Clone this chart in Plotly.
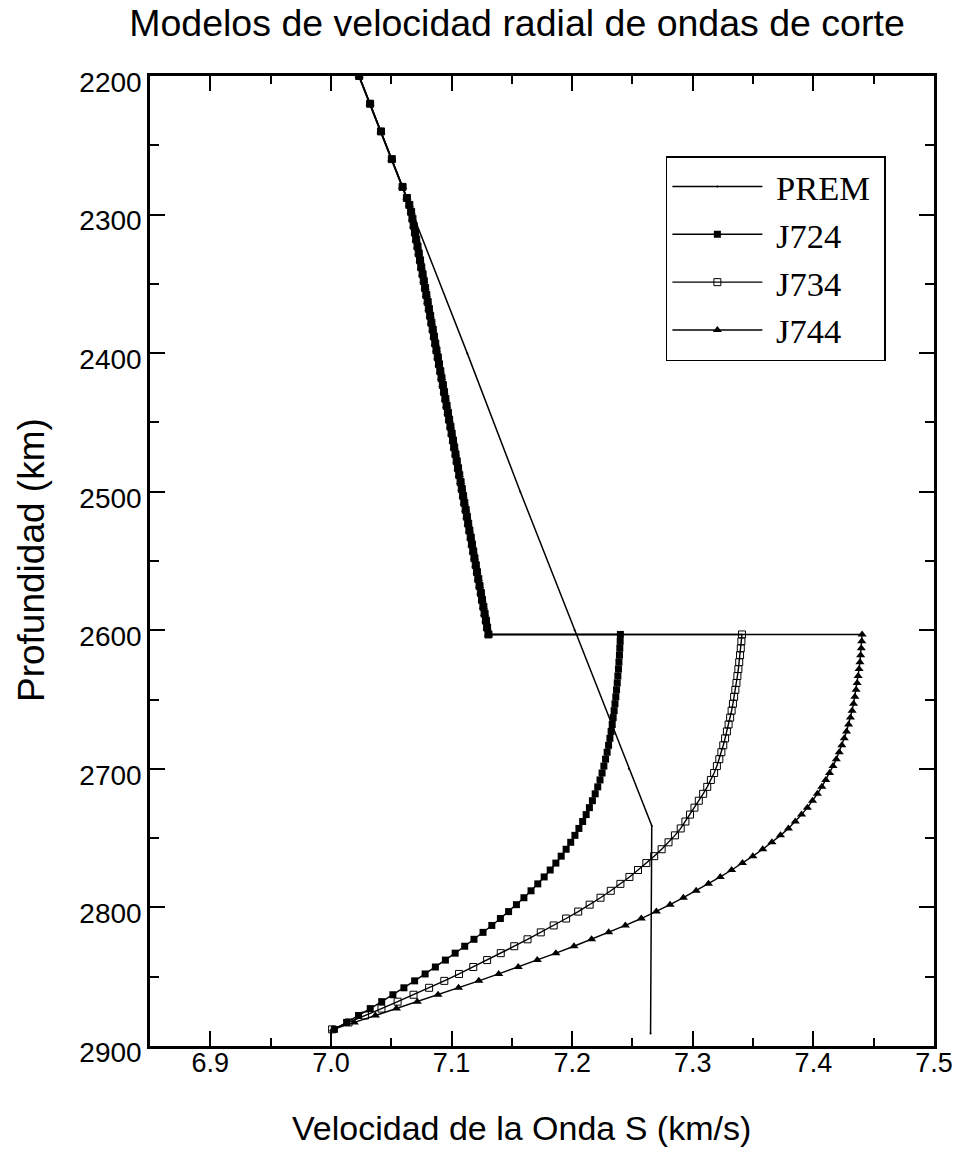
import plotly.graph_objects as go

# ---------------- data ----------------
PREM_DEPTH = [2200, 2300, 2400, 2500, 2600, 2700, 2741, 2891]
PREM_VS = [7.023, 7.068, 7.113, 7.157, 7.202, 7.247, 7.266, 7.265]

# shared upper part of the three models (2200 - 2603 km)
UPPER_DEPTH = [2200, 2220, 2240, 2260, 2280, 2288, 2293,
               2298, 2303, 2308, 2313, 2318, 2323, 2328, 2333, 2338, 2343,
               2348, 2353, 2358, 2363, 2368, 2373, 2378, 2383, 2388, 2393,
               2398, 2403, 2408, 2413, 2418, 2423, 2428, 2433, 2438, 2443,
               2448, 2453, 2458, 2463, 2468, 2473, 2478, 2483, 2488, 2493,
               2498, 2503, 2508, 2513, 2518, 2523, 2528, 2533, 2538, 2543,
               2548, 2553, 2558, 2563, 2568, 2573, 2578, 2583, 2588, 2593,
               2598, 2603]
UPPER_VS = [7.0234, 7.0325, 7.0415, 7.0505, 7.0594, 7.0630, 7.0650,
            7.0665, 7.0676, 7.0686, 7.0697, 7.0707, 7.0718, 7.0728, 7.0739, 7.0749, 7.0760,
            7.0770, 7.0781, 7.0791, 7.0802, 7.0812, 7.0823, 7.0833, 7.0844, 7.0854, 7.0865,
            7.0875, 7.0886, 7.0896, 7.0907, 7.0917, 7.0928, 7.0938, 7.0949, 7.0959, 7.0970,
            7.0980, 7.0991, 7.1001, 7.1012, 7.1022, 7.1033, 7.1043, 7.1054, 7.1064, 7.1075,
            7.1085, 7.1096, 7.1106, 7.1117, 7.1127, 7.1138, 7.1148, 7.1159, 7.1169, 7.1180,
            7.1190, 7.1201, 7.1211, 7.1222, 7.1232, 7.1243, 7.1253, 7.1264, 7.1274, 7.1285,
            7.1295, 7.1306]

# lower part (2603 - 2888 km), one velocity list per model
LOWER_DEPTH = [2603, 2608, 2613, 2618, 2623, 2628, 2633, 2638, 2643, 2648,
               2653, 2658, 2663, 2668, 2673, 2678, 2683, 2688, 2693, 2698,
               2703, 2708, 2713, 2718, 2723, 2728, 2733, 2738, 2743, 2748,
               2753, 2758, 2763, 2768, 2773, 2778, 2783, 2788, 2793, 2798,
               2803, 2808, 2813, 2818, 2823, 2828, 2833, 2838, 2843, 2848,
               2853, 2858, 2863, 2868, 2873, 2878, 2883, 2888]
J724_VS = [7.2400, 7.2398, 7.2395, 7.2392, 7.2388, 7.2384, 7.2379, 7.2374, 7.2368, 7.2362,
           7.2355, 7.2348, 7.2340, 7.2332, 7.2323, 7.2313, 7.2302, 7.2290, 7.2277, 7.2263,
           7.2248, 7.2231, 7.2212, 7.2191, 7.2168, 7.2143, 7.2116, 7.2087, 7.2056, 7.2023,
           7.1988, 7.1950, 7.1909, 7.1865, 7.1818, 7.1768, 7.1715, 7.1659, 7.1600, 7.1538,
           7.1473, 7.1405, 7.1334, 7.1261, 7.1186, 7.1109, 7.1030, 7.0949, 7.0866, 7.0781,
           7.0694, 7.0605, 7.0514, 7.0421, 7.0326, 7.0229, 7.0130, 7.0029]
J734_VS = [7.3408, 7.3403, 7.3398, 7.3392, 7.3385, 7.3378, 7.3370, 7.3362, 7.3353, 7.3343,
           7.3333, 7.3322, 7.3310, 7.3297, 7.3283, 7.3268, 7.3253, 7.3237, 7.3220, 7.3200,
           7.3177, 7.3150, 7.3120, 7.3086, 7.3050, 7.3014, 7.2977, 7.2939, 7.2900, 7.2852,
           7.2799, 7.2742, 7.2680, 7.2615, 7.2546, 7.2475, 7.2400, 7.2320, 7.2235, 7.2145,
           7.2050, 7.1950, 7.1847, 7.1740, 7.1630, 7.1520, 7.1408, 7.1295, 7.1180, 7.1062,
           7.0940, 7.0814, 7.0685, 7.0553, 7.0419, 7.0283, 7.0146, 7.0010]
J744_VS = [7.4404, 7.4401, 7.4397, 7.4392, 7.4386, 7.4379, 7.4371, 7.4363, 7.4354, 7.4344,
           7.4333, 7.4321, 7.4307, 7.4292, 7.4275, 7.4256, 7.4236, 7.4214, 7.4190, 7.4163,
           7.4134, 7.4103, 7.4070, 7.4033, 7.3993, 7.3950, 7.3902, 7.3850, 7.3793, 7.3727,
           7.3656, 7.3580, 7.3498, 7.3412, 7.3322, 7.3228, 7.3130, 7.3028, 7.2922, 7.2812,
           7.2698, 7.2573, 7.2441, 7.2303, 7.2161, 7.2015, 7.1865, 7.1711, 7.1553, 7.1391,
           7.1226, 7.1058, 7.0888, 7.0716, 7.0543, 7.0369, 7.0194, 7.0020]

SERIES_NAMES = ["PREM", "J724", "J734", "J744"]
TITLE = "Modelos de velocidad radial de ondas de corte"
X_TITLE = "Velocidad de la Onda S (km/s)"
Y_TITLE = "Profundidad (km)"

# ---------------- figure ----------------
SANS = "Liberation Sans, Arial, sans-serif"
SERIF = "Liberation Serif, Times New Roman, serif"
NBSP = "\u00a0"


def legend_label(name):
    # a little breathing room around the legend text, as in the original box
    return NBSP + name + NBSP


fig = go.Figure()

fig.add_trace(go.Scatter(
    x=PREM_VS, y=PREM_DEPTH, name=legend_label(SERIES_NAMES[0]), mode="lines+markers",
    line=dict(color="black", width=1.5),
    marker=dict(symbol="circle", size=2, color="black"),
))

models = [
    (SERIES_NAMES[1], J724_VS, dict(symbol="square", size=7, color="black")),
    (SERIES_NAMES[2], J734_VS, dict(symbol="square-open", size=7, color="black",
                                    line=dict(width=1, color="black"))),
    (SERIES_NAMES[3], J744_VS, dict(symbol="triangle-up", size=8, color="black")),
]
for name, lower_vs, mk in models:
    fig.add_trace(go.Scatter(
        x=UPPER_VS + lower_vs, y=UPPER_DEPTH + LOWER_DEPTH, name=legend_label(name),
        mode="lines+markers", line=dict(color="black", width=1.4), marker=mk,
    ))

axis_common = dict(
    ticks="inside", ticklen=15, tickwidth=2, tickcolor="black",
    showline=True, linewidth=2.5, linecolor="black", mirror="ticks",
    showgrid=False, zeroline=False, automargin=False,
)

W, H = 960, 1156
ML, MR, MT, MB = 150, 26, 76, 110
PW, PH = W - ML - MR, H - MT - MB

fig.update_layout(
    width=W, height=H,
    paper_bgcolor="white", plot_bgcolor="white",
    margin=dict(l=ML, r=MR, t=MT, b=MB),
    title=dict(text=TITLE, x=517 / W, xref="container", xanchor="center",
               y=1 - 23 / H, yref="container", yanchor="middle",
               font=dict(family=SANS, size=37.5, color="black")),
    xaxis=dict(range=[6.85, 7.5], tick0=6.9, dtick=0.1, tickformat=".1f",
               tickfont=dict(family=SANS, size=27, color="black"),
               ticklabelstandoff=-9,
               minor=dict(dtick=0.05, ticks="inside", ticklen=8, tickwidth=2,
                          tickcolor="black", showgrid=False),
               **axis_common),
    yaxis=dict(range=[2900, 2200], tick0=2200, dtick=100,
               tickfont=dict(family=SANS, size=28, color="black"),
               ticklabelstandoff=0, ticklabelshift=-6,
               minor=dict(dtick=50, ticks="inside", ticklen=9, tickwidth=2,
                          tickcolor="black", showgrid=False),
               **axis_common),
    legend=dict(x=0.658, y=0.9175, xanchor="left", yanchor="top",
                bordercolor="black", borderwidth=1.5, bgcolor="white",
                font=dict(family=SERIF, size=34.5, color="black"),
                itemwidth=90, tracegroupgap=0),
    showlegend=True,
    annotations=[
        dict(text=X_TITLE, xref="paper", yref="paper",
             x=(521 - ML) / PW, y=1 - (1128 - MT) / PH,
             xanchor="center", yanchor="middle", showarrow=False,
             font=dict(family=SANS, size=34, color="black")),
        dict(text=Y_TITLE, xref="paper", yref="paper", textangle=-90,
             x=(31 - ML) / PW, y=1 - (560 - MT) / PH,
             xanchor="center", yanchor="middle", showarrow=False,
             font=dict(family=SANS, size=37, color="black")),
    ],
)

# remove the browser's default 8 px page margin so the figure fills the window
fig.write_html("out.html", config={"displayModeBar": False},
               post_script="document.body.style.margin='0px';")
